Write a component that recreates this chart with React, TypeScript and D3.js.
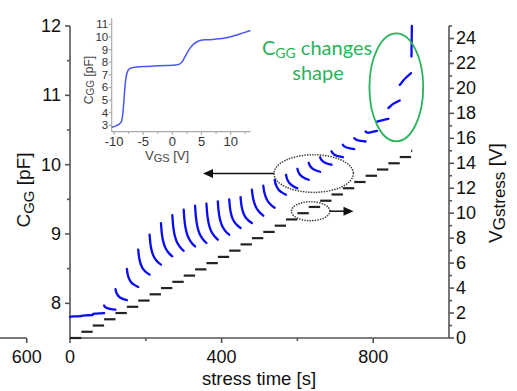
import React from 'react';
import * as d3 from 'd3';

// Stress staircase: start/end time of each gate-stress step [s] and its voltage [V]
const stepStart = [0, 30, 60, 90, 120, 150, 180, 210, 240, 270, 300, 330, 360, 390, 420, 450, 480, 510, 540, 570, 600, 630, 660, 690, 720, 750, 780, 810, 840, 870, 900];
const stepEnd = [30, 60, 90, 120, 150, 180, 210, 240, 270, 300, 330, 360, 390, 420, 450, 480, 510, 540, 570, 600, 630, 660, 690, 720, 750, 780, 810, 840, 870, 900, 903];
const stepVolt = [0, 0.5, 1, 1.5, 2, 2.5, 3, 3.5, 4, 4.5, 5, 5.5, 6, 6.5, 7, 7.5, 8, 8.5, 9, 9.5, 10, 10.5, 11, 11.5, 12, 12.5, 13, 13.5, 14, 14.5, 15];

// C_GG recorded during each step, sampled at these offsets [s] from the step start
const sampleOffsets = [0, 2, 5, 10, 18, 30];
const capArcs = [
  [7.805, 7.807, 7.809, 7.811, 7.813, 7.815],
  [7.818, 7.82, 7.822, 7.825, 7.828, 7.83],
  [7.845, 7.847, 7.85, 7.853, 7.856, 7.86],
  [7.968, 7.951, 7.939, 7.927, 7.917, 7.909],
  [8.205, 8.16, 8.126, 8.094, 8.068, 8.046],
  [8.496, 8.423, 8.366, 8.314, 8.272, 8.236],
  [8.774, 8.673, 8.594, 8.522, 8.464, 8.414],
  [8.99, 8.869, 8.774, 8.688, 8.618, 8.558],
  [9.158, 9.023, 8.918, 8.821, 8.744, 8.677],
  [9.271, 9.127, 9.014, 8.911, 8.829, 8.757],
  [9.35, 9.202, 9.085, 8.979, 8.894, 8.82],
  [9.408, 9.257, 9.139, 9.031, 8.945, 8.87],
  [9.437, 9.292, 9.178, 9.074, 8.991, 8.918],
  [9.47, 9.336, 9.23, 9.134, 9.057, 8.99],
  [9.5, 9.384, 9.293, 9.21, 9.144, 9.086],
  [9.533, 9.428, 9.346, 9.271, 9.211, 9.158],
  [9.638, 9.548, 9.473, 9.395, 9.328, 9.264],
  [9.696, 9.62, 9.557, 9.49, 9.433, 9.379],
  [9.782, 9.73, 9.687, 9.642, 9.603, 9.566],
  [9.854, 9.807, 9.769, 9.728, 9.693, 9.66],
  [9.941, 9.903, 9.871, 9.838, 9.809, 9.782],
  [10.027, 9.996, 9.97, 9.943, 9.92, 9.898],
  [10.107, 10.081, 10.059, 10.037, 10.017, 9.999],
  [10.193, 10.172, 10.155, 10.137, 10.122, 10.107],
  [10.287, 10.272, 10.26, 10.247, 10.236, 10.225],
  [10.383, 10.371, 10.361, 10.351, 10.342, 10.334],
  [10.478, 10.468, 10.462, 10.462, 10.472, 10.488],
  [10.622, 10.624, 10.628, 10.636, 10.647, 10.661],
  [10.816, 10.826, 10.842, 10.866, 10.893, 10.925],
  [11.151, 11.163, 11.183, 11.218, 11.262, 11.32],
];
// last step: C_GG jumps almost instantly
const jumpTime = [901, 902];
const jumpCap = [11.56, 12.0];

// Axis ticks
const capTicks = [8, 9, 10, 11, 12];
const capMinor = [8.5, 9.5, 10.5, 11.5];
const timeTicks = [0, 400, 800];
const timeMinor = [200, 600];
const voltTicks = [0, 2, 4, 6, 8, 10, 12, 14, 16, 18, 20, 22, 24];
const voltMinor = [1, 3, 5, 7, 9, 11, 13, 15, 17, 19, 21, 23, 25];

// Inset: quasi-static C-V curve
const insetVgs = [-10.4, -10, -9.5, -9, -8.7, -8.5, -8.3, -8.1, -7.9, -7.6, -7.2, -6.5, -5, -3, -1, 0.5, 1.2, 1.7, 2.3, 3, 3.7, 4.5, 5.5, 7, 8, 9, 10, 11, 12, 13.4];
const insetCgg = [2.85, 2.9, 3.0, 3.15, 3.35, 3.9, 5.0, 6.2, 6.9, 7.35, 7.52, 7.6, 7.66, 7.7, 7.74, 7.78, 7.85, 8.05, 8.55, 9.1, 9.45, 9.68, 9.77, 9.8, 9.85, 9.92, 10.02, 10.15, 10.3, 10.5];
const insetYTicks = [3, 4, 5, 6, 7, 8, 9, 10, 11];
const insetXTicks = [-10, -5, 0, 5, 10];
const insetXMinor = [-7.5, -2.5, 2.5, 7.5, 12.5];

const FONT = "'Liberation Sans', Arial, sans-serif";
const GREEN = '#2bb35a';
const BLUE = '#0a0af5';
const AXIS = '#555';

export default function App() {
  const x = d3.scaleLinear().domain([0, 1000]).range([70, 449]);
  const yC = d3.scaleLinear().domain([7.5, 12]).range([338, 26]);
  const yV = d3.scaleLinear().domain([0, 25]).range([338, 26]);

  const xi = d3.scaleLinear().domain([-10.4, 13.4]).range([111.7, 250.5]);
  const yi = d3.scaleLinear().domain([2.5, 11.5]).range([131.7, 18]);

  const arcLine = d3
    .line<[number, number]>()
    .x((d) => x(d[0]))
    .y((d) => yC(d[1]))
    .curve(d3.curveMonotoneX);

  const insetLine = d3
    .line<[number, number]>()
    .x((d) => xi(d[0]))
    .y((d) => yi(d[1]))
    .curve(d3.curveMonotoneX);

  const arcs = capArcs.map((vals, k) =>
    arcLine(vals.map((c, i) => [stepStart[k] + sampleOffsets[i], c] as [number, number]))
  );
  const jump = arcLine(jumpTime.map((t, i) => [t, jumpCap[i]] as [number, number]));
  const insetPath = insetLine(insetVgs.map((v, i) => [v, insetCgg[i]] as [number, number]));

  // annotation geometry in data units
  const bigEll = { t: 643, c: 9.872, rt: 104.7, rc: 0.271 };
  const smallEll = { t: 635, v: 10.16, rt: 50.7, rv: 0.76 };
  const greenEll = { t: 861, c: 11.115, rt: 71, rc: 0.778 };

  const leftArrowFrom = x(bigEll.t - bigEll.rt);
  const leftArrowTo = x(351);
  const leftArrowY = yC(bigEll.c);
  const rightArrowFrom = x(smallEll.t + smallEll.rt);
  const rightArrowTo = x(748);
  const rightArrowY = yV(smallEll.v);

  const bottomY = yC(7.5);

  return (
    <svg
      width={517}
      height={391}
      viewBox="0 0 517 391"
      style={{ position: 'absolute', left: 0, top: 0, background: '#fff' }}
      fontFamily={FONT}
    >
      <rect x={0} y={0} width={517} height={391} fill="#fff" />

      {/* fragment of a neighbouring panel's time axis */}
      <g stroke={AXIS} strokeWidth={1.6}>
        <line x1={0} x2={26.7} y1={bottomY} y2={bottomY} />
        <line x1={26.7} x2={26.7} y1={bottomY} y2={bottomY + 5} />
      </g>
      <text x={26.7} y={363.3} fontSize={18} textAnchor="middle" fill="#111">600</text>

      {/* main axes */}
      <g stroke={AXIS} strokeWidth={1.6} fill="none">
        <line x1={x(0)} x2={x(0)} y1={yC(12)} y2={bottomY} />
        <line x1={x(1000)} x2={x(1000)} y1={yV(25)} y2={bottomY} />
        <line x1={x(0)} x2={x(1000)} y1={bottomY} y2={bottomY} />
        {capTicks.map((v) => (
          <line key={'ct' + v} x1={x(0) - 5} x2={x(0)} y1={yC(v)} y2={yC(v)} />
        ))}
        {capMinor.map((v) => (
          <line key={'cm' + v} x1={x(0) - 3} x2={x(0)} y1={yC(v)} y2={yC(v)} />
        ))}
        {timeTicks.map((v) => (
          <line key={'tt' + v} x1={x(v)} x2={x(v)} y1={bottomY} y2={bottomY + 5} />
        ))}
        {timeMinor.map((v) => (
          <line key={'tm' + v} x1={x(v)} x2={x(v)} y1={bottomY} y2={bottomY + 3} />
        ))}
        {voltTicks.map((v) => (
          <line key={'vt' + v} x1={x(1000)} x2={x(1000) + 5} y1={yV(v)} y2={yV(v)} />
        ))}
        {voltMinor.map((v) => (
          <line key={'vm' + v} x1={x(1000)} x2={x(1000) + 3} y1={yV(v)} y2={yV(v)} />
        ))}
      </g>

      {/* tick labels */}
      <g fontSize={18} fill="#111">
        {capTicks.map((v) => (
          <text key={'cl' + v} x={x(0) - 9} y={yC(v)} textAnchor="end" dominantBaseline="central">
            {v}
          </text>
        ))}
        {timeTicks.map((v) => (
          <text key={'tl' + v} x={x(v)} y={363.3} textAnchor="middle">
            {v}
          </text>
        ))}
        {voltTicks.map((v) => (
          <text key={'vl' + v} x={x(1000) + 7} y={yV(v)} textAnchor="start" dominantBaseline="central">
            {v}
          </text>
        ))}
      </g>

      {/* axis titles */}
      <text x={259} y={385} fontSize={18.5} textAnchor="middle" fill="#111">
        stress time [s]
      </text>
      <text transform="translate(30,190) rotate(-90)" fontSize={19} textAnchor="middle" fill="#111">
        C<tspan fontSize={15} dy={4}>GG</tspan>
        <tspan dy={-4}> [pF]</tspan>
      </text>
      <text transform="translate(502,193) rotate(-90)" fontSize={19} textAnchor="middle" fill="#111">
        V<tspan fontSize={17} dy={3}>Gstress</tspan>
        <tspan dy={-3}> [V]</tspan>
      </text>

      {/* stress voltage staircase */}
      <g stroke="#222" strokeWidth={2.2}>
        {stepVolt.map((v, k) => (
          <line key={'s' + k} x1={x(stepStart[k])} x2={x(stepEnd[k])} y1={yV(v)} y2={yV(v)} />
        ))}
      </g>

      {/* C_GG traces */}
      <g stroke={BLUE} strokeWidth={2.3} fill="none" strokeLinecap="round">
        {arcs.map((d, k) => (
          <path key={'a' + k} d={d || ''} />
        ))}
        <path d={jump || ''} />
      </g>

      {/* annotations */}
      <g fill="none" stroke="#444" strokeWidth={1.7} strokeDasharray="0.01 2.6" strokeLinecap="round">
        <ellipse
          cx={x(bigEll.t)}
          cy={yC(bigEll.c)}
          rx={x(bigEll.rt) - x(0)}
          ry={yC(7.5) - yC(7.5 + bigEll.rc)}
        />
        <ellipse
          cx={x(smallEll.t)}
          cy={yV(smallEll.v)}
          rx={x(smallEll.rt) - x(0)}
          ry={yV(0) - yV(smallEll.rv)}
        />
      </g>
      <g stroke="#111" strokeWidth={1.5}>
        <line x1={leftArrowFrom} x2={leftArrowTo + 7} y1={leftArrowY} y2={leftArrowY} />
        <line x1={rightArrowFrom} x2={rightArrowTo - 7} y1={rightArrowY} y2={rightArrowY} />
      </g>
      <path d={`M${leftArrowTo},${leftArrowY} l10,-4.5 l0,9 z`} fill="#111" />
      <path d={`M${rightArrowTo},${rightArrowY} l-10,-4.5 l0,9 z`} fill="#111" />
      <ellipse
        cx={x(greenEll.t)}
        cy={yC(greenEll.c)}
        rx={x(greenEll.rt) - x(0)}
        ry={yC(7.5) - yC(7.5 + greenEll.rc)}
        fill="none"
        stroke={GREEN}
        strokeWidth={1.8}
      />
      <g fill={GREEN} fontFamily="Lato, 'Open Sans', sans-serif" fontSize={20} textAnchor="middle">
        <text x={317} y={55}>
          C<tspan fontSize={14} dy={3}>GG</tspan>
          <tspan dy={-3}> changes</tspan>
        </text>
        <text x={318} y={80}>shape</text>
      </g>

      {/* inset C-V curve */}
      <g stroke="#aaa" strokeWidth={1.2}>
        <line x1={xi(-10.4)} x2={xi(-10.4)} y1={yi(11.5)} y2={yi(2.5)} />
        <line x1={xi(-10.4)} x2={xi(13.4)} y1={yi(2.5)} y2={yi(2.5)} />
        {insetYTicks.map((v) => (
          <line key={'iy' + v} x1={xi(-10.4) - 3} x2={xi(-10.4)} y1={yi(v)} y2={yi(v)} />
        ))}
        {insetXTicks.map((v) => (
          <line key={'ix' + v} x1={xi(v)} x2={xi(v)} y1={yi(2.5)} y2={yi(2.5) + 3} />
        ))}
        {insetXMinor.map((v) => (
          <line key={'ixm' + v} x1={xi(v)} x2={xi(v)} y1={yi(2.5)} y2={yi(2.5) + 2} />
        ))}
      </g>
      <g fontSize={11.5} fill="#333">
        {insetYTicks.map((v) => (
          <text key={'iyl' + v} x={xi(-10.4) - 3.5} y={yi(v)} textAnchor="end" dominantBaseline="central">
            {v}
          </text>
        ))}
      </g>
      <g fontSize={13} fill="#333">
        {insetXTicks.map((v) => (
          <text key={'ixl' + v} x={xi(v)} y={146} textAnchor="middle">
            {v}
          </text>
        ))}
      </g>
      <text transform="translate(92.5,80) rotate(-90)" fontSize={12} textAnchor="middle" fill="#444">
        C<tspan fontSize={10} dy={1.5}>GG</tspan>
        <tspan dy={-1.5}> [pF]</tspan>
      </text>
      <text x={167} y={160} fontSize={13} textAnchor="middle" fill="#444">
        V<tspan fontSize={11} dy={2}>GS</tspan>
        <tspan dy={-2}> [V]</tspan>
      </text>
      <path d={insetPath || ''} fill="none" stroke="#4a55f2" strokeWidth={1.5} />
    </svg>
  );
}
